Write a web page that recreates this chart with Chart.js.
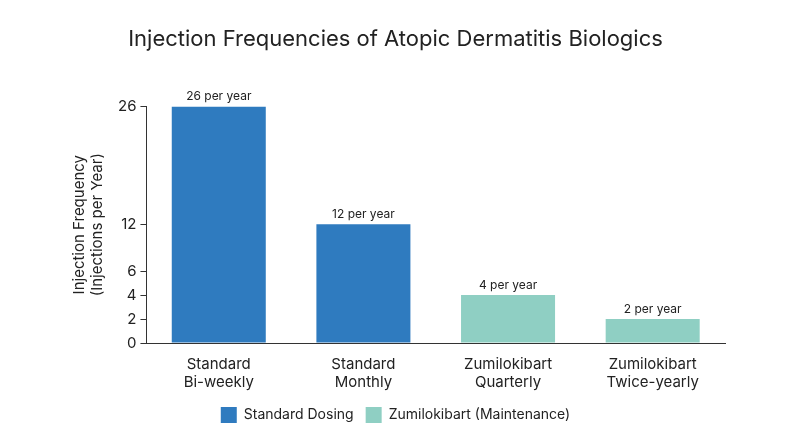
<!DOCTYPE html>
<html>
<head>
<meta charset="utf-8">
<script src="https://cdn.jsdelivr.net/npm/chart.js@4/dist/chart.umd.min.js"></script>
<style>
  body { margin: 0; background: #fff; }
  #wrap { width: 800px; height: 447px; }
</style>
</head>
<body>
<div id="wrap"><canvas id="myChart"></canvas></div>
<script>
const categories = [["Standard", "Bi-weekly"], ["Standard", "Monthly"], ["Zumilokibart", "Quarterly"], ["Zumilokibart", "Twice-yearly"]];
const standardValues = [26, 12, null, null];
const zumiValues = [null, null, 4, 2];
const tickValues = [0, 2, 4, 6, 12, 26];
// axis breakpoints: value -> share of axis height
const breakValues = [0, 6, 12, 26];
const breakShares = [0, 0.304, 0.502, 1];

function toShare(v) {
  for (let i = 1; i < breakValues.length; i++) {
    if (v <= breakValues[i] || i === breakValues.length - 1) {
      const a = breakValues[i - 1], b = breakValues[i];
      return breakShares[i - 1] + (v - a) / (b - a) * (breakShares[i] - breakShares[i - 1]);
    }
  }
  return 0;
}
function fromShare(s) {
  for (let i = 1; i < breakShares.length; i++) {
    if (s <= breakShares[i] || i === breakShares.length - 1) {
      const a = breakShares[i - 1], b = breakShares[i];
      return breakValues[i - 1] + (s - a) / (b - a) * (breakValues[i] - breakValues[i - 1]);
    }
  }
  return 0;
}

class PiecewiseScale extends Chart.LinearScale {
  buildTicks() {
    return tickValues.map(v => ({ value: v }));
  }
  getPixelForValue(value) {
    if (value === null || isNaN(value)) return NaN;
    return this.getPixelForDecimal(toShare(value));
  }
  getValueForPixel(pixel) {
    return fromShare(this.getDecimalForPixel(pixel));
  }
}
PiecewiseScale.id = "piecewise";
PiecewiseScale.defaults = Chart.LinearScale.defaults;
Chart.register(PiecewiseScale);

const valueLabels = {
  id: "valueLabels",
  afterDatasetsDraw(chart) {
    const ctx = chart.ctx;
    ctx.save();
    ctx.font = "12px Inter";
    ctx.fillStyle = "#222";
    ctx.textAlign = "center";
    ctx.textBaseline = "bottom";
    chart.data.datasets.forEach((ds, di) => {
      chart.getDatasetMeta(di).data.forEach((bar, i) => {
        if (ds.data[i] == null) return;
        ctx.fillText(ds.data[i] + " per year", bar.x, bar.y - 4);
      });
    });
    ctx.restore();
  }
};

Chart.defaults.font.family = "Inter";
Chart.defaults.color = "#222";

new Chart(document.getElementById("myChart"), {
  type: "bar",
  data: {
    labels: categories,
    datasets: [
      { label: "Standard Dosing", data: standardValues, backgroundColor: "#2f7bbf", barPercentage: 0.65, categoryPercentage: 1 },
      { label: "Zumilokibart (Maintenance)", data: zumiValues, backgroundColor: "#8fcfc3", barPercentage: 0.65, categoryPercentage: 1 }
    ]
  },
  options: {
    responsive: true,
    maintainAspectRatio: false,
    animation: false,
    layout: { padding: { left: 66, right: 75, top: 10, bottom: 14 } },
    plugins: {
      title: {
        display: true,
        text: "Injection Frequencies of Atopic Dermatitis Biologics",
        font: { size: 22, weight: "normal" },
        color: "#222",
        padding: { top: 16, bottom: 54 }
      },
      legend: {
        position: "bottom",
        labels: { boxWidth: 16, boxHeight: 16, font: { size: 14 }, padding: 12 }
      },
      tooltip: { enabled: false }
    },
    scales: {
      x: {
        stacked: true,
        grid: { display: false },
        border: { color: "#333" },
        ticks: { font: { size: 15 }, padding: 4 }
      },
      y: {
        type: "piecewise",
        stacked: true,
        min: 0,
        max: 26,
        grid: { display: true, drawOnChartArea: false, color: "#333", tickLength: 6 },
        border: { color: "#333" },
        ticks: { font: { size: 15 }, padding: 4 },
        title: {
          display: true,
          text: ["Injection Frequency", "(Injections per Year)"],
          font: { size: 15 },
          padding: { bottom: 8 }
        }
      }
    }
  },
  plugins: [valueLabels]
});
</script>
</body>
</html>
